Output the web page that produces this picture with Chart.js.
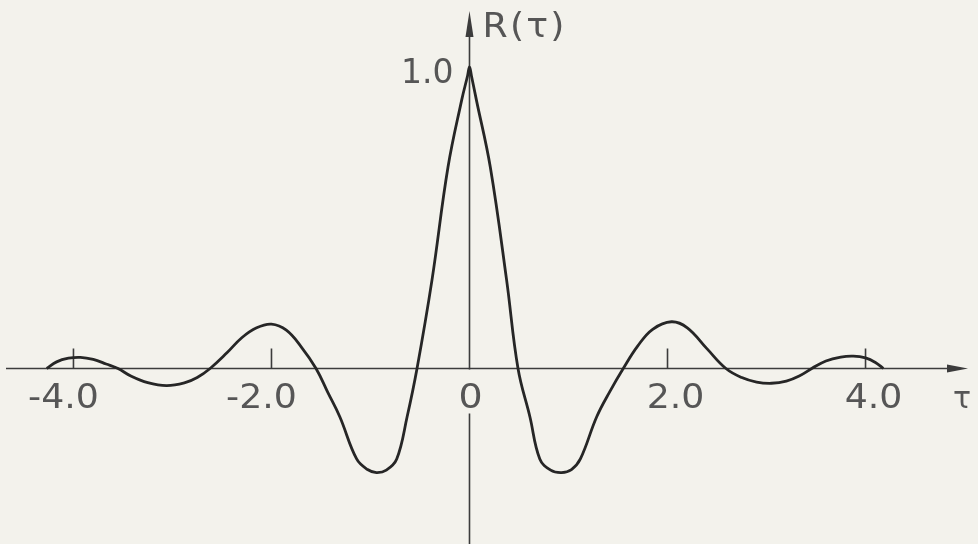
<!DOCTYPE html>
<html>
<head>
<meta charset="utf-8">
<title>R(τ)</title>
<script src="https://cdn.jsdelivr.net/npm/chart.js@4"></script>
<style>
    html, body { margin: 0; padding: 0; }
    body { background: #f3f2ec; width: 978px; height: 544px; overflow: hidden; }
    canvas { display: block; }
</style>
</head>
<body>
<canvas id="corrChart" width="978" height="544"></canvas>
<script>
// Autocorrelation curve, tau on the x axis
const tauValues = [-4.27, -4.17, -4.05, -3.93, -3.80, -3.67, -3.55, -3.42, -3.25, -3.06, -2.88, -2.75, -2.62,
    -2.45, -2.30, -2.15, -2.0, -1.85, -1.70, -1.55,
    -1.43, -1.31, -1.14, -1.03, -0.94, -0.84, -0.735, -0.63, -0.53,
    -0.379, -0.217, -0.079, -0.02, 0, 0.02, 0.07, 0.21, 0.375,
    0.49, 0.61, 0.71, 0.82, 0.93, 1.03, 1.12, 1.285, 1.42, 1.553,
    1.70, 1.85, 2.04, 2.20, 2.40, 2.59,
    2.75, 2.90, 3.05, 3.20, 3.33, 3.457,
    3.60, 3.75, 3.877, 4.0, 4.10, 4.18];
const rValues = [0, 0.022, 0.034, 0.037, 0.030, 0.015, 0, -0.025, -0.047, -0.057, -0.048, -0.030, 0,
    0.052, 0.102, 0.135, 0.147, 0.127, 0.072, 0,
    -0.08, -0.16, -0.30, -0.335, -0.345, -0.337, -0.30, -0.16, 0,
    0.293, 0.668, 0.89, 0.97, 1.0, 0.97, 0.89, 0.668, 0.293,
    0, -0.16, -0.30, -0.337, -0.345, -0.335, -0.30, -0.16, -0.075, 0,
    0.075, 0.13, 0.155, 0.135, 0.065, 0,
    -0.030, -0.045, -0.049, -0.042, -0.025, 0,
    0.025, 0.038, 0.041, 0.035, 0.020, 0];

// Axis ticks and their labels
const tickValues = [-4, -2, 2, 4];
const tickLabels = ['-4.0', '-2.0', '2.0', '4.0'];
const originLabel = '0';
const peakLabel = '1.0';
const yAxisTitle = 'R(τ)';
const xAxisTitle = 'τ';

const inkColor = '#262626';
const axisColor = '#3c3c3c';
const textColor = '#565656';
const labelFont = '33px "DejaVu Sans"';

function arrowHead(ctx, tipX, tipY, dirX, dirY, len, half) {
    const bx = tipX - dirX * len, by = tipY - dirY * len;
    ctx.beginPath();
    ctx.moveTo(tipX, tipY);
    ctx.lineTo(bx - dirY * half, by + dirX * half);
    ctx.lineTo(bx + dirY * half, by - dirX * half);
    ctx.closePath();
    ctx.fill();
}

// lettering is a little wider than the font, so stretch it sideways
function wideText(ctx, text, x, y, stretch) {
    ctx.save();
    ctx.translate(x, y);
    ctx.scale(stretch, 1);
    ctx.fillText(text, 0, 0);
    ctx.restore();
}

// Draws the crossing axes, tick marks, arrows and lettering
const axesPlugin = {
    id: 'crossAxes',
    beforeDatasetsDraw(chart) {
        const ctx = chart.ctx;
        const xs = chart.scales.x, ys = chart.scales.y;
        const x0 = xs.getPixelForValue(0), y0 = ys.getPixelForValue(0);
        const h = chart.height;

        ctx.save();
        ctx.strokeStyle = axisColor;
        ctx.fillStyle = axisColor;
        ctx.lineWidth = 1.6;

        // horizontal axis
        ctx.beginPath();
        ctx.moveTo(6, y0);
        ctx.lineTo(955, y0);
        ctx.stroke();
        arrowHead(ctx, 968, y0, 1, 0, 21, 4);

        // vertical axis, broken around the origin label
        ctx.beginPath();
        ctx.moveTo(x0, 30);
        ctx.lineTo(x0, y0 + 1);
        ctx.moveTo(x0, y0 + 45);
        ctx.lineTo(x0, h);
        ctx.stroke();
        arrowHead(ctx, x0, 11, 0, -1, 26, 4);

        // tick marks stand above the axis
        tickValues.forEach(v => {
            const px = xs.getPixelForValue(v);
            ctx.beginPath();
            ctx.moveTo(px, y0);
            ctx.lineTo(px, y0 - 20);
            ctx.stroke();
        });

        ctx.fillStyle = textColor;
        ctx.font = labelFont;
        ctx.textBaseline = 'alphabetic';
        ctx.textAlign = 'center';
        tickValues.forEach((v, i) => {
            const px = xs.getPixelForValue(v);
            const shift = tickLabels[i].startsWith('-') ? -10 : 8;
            wideText(ctx, tickLabels[i], px + shift, y0 + 40, 1.1);
        });
        wideText(ctx, originLabel, x0 + 1, y0 + 40, 1.15);

        ctx.textAlign = 'right';
        ctx.fillText(peakLabel, x0 - 16, ys.getPixelForValue(1) + 16);

        ctx.textAlign = 'left';
        ctx.letterSpacing = '2px';
        wideText(ctx, yAxisTitle, x0 + 13, 37, 1.1);
        ctx.letterSpacing = '0px';
        ctx.font = '30px "DejaVu Sans"';
        ctx.fillText(xAxisTitle, 953, y0 + 40);
        ctx.restore();
    }
};

new Chart(document.getElementById('corrChart'), {
    type: 'line',
    data: {
        datasets: [{
            data: tauValues.map((t, i) => ({ x: t, y: rValues[i] })),
            borderColor: inkColor,
            borderWidth: 2.8,
            pointRadius: 0,
            fill: false,
            tension: 0.4
        }]
    },
    options: {
        responsive: false,
        animation: false,
        devicePixelRatio: 1,
        layout: { padding: 0 },
        plugins: {
            legend: { display: false },
            tooltip: { enabled: false }
        },
        scales: {
            x: { type: 'linear', min: -4.742, max: 5.136, display: false },
            y: { type: 'linear', min: -0.582, max: 1.222, display: false }
        }
    },
    plugins: [axesPlugin]
});
</script>
</body>
</html>
